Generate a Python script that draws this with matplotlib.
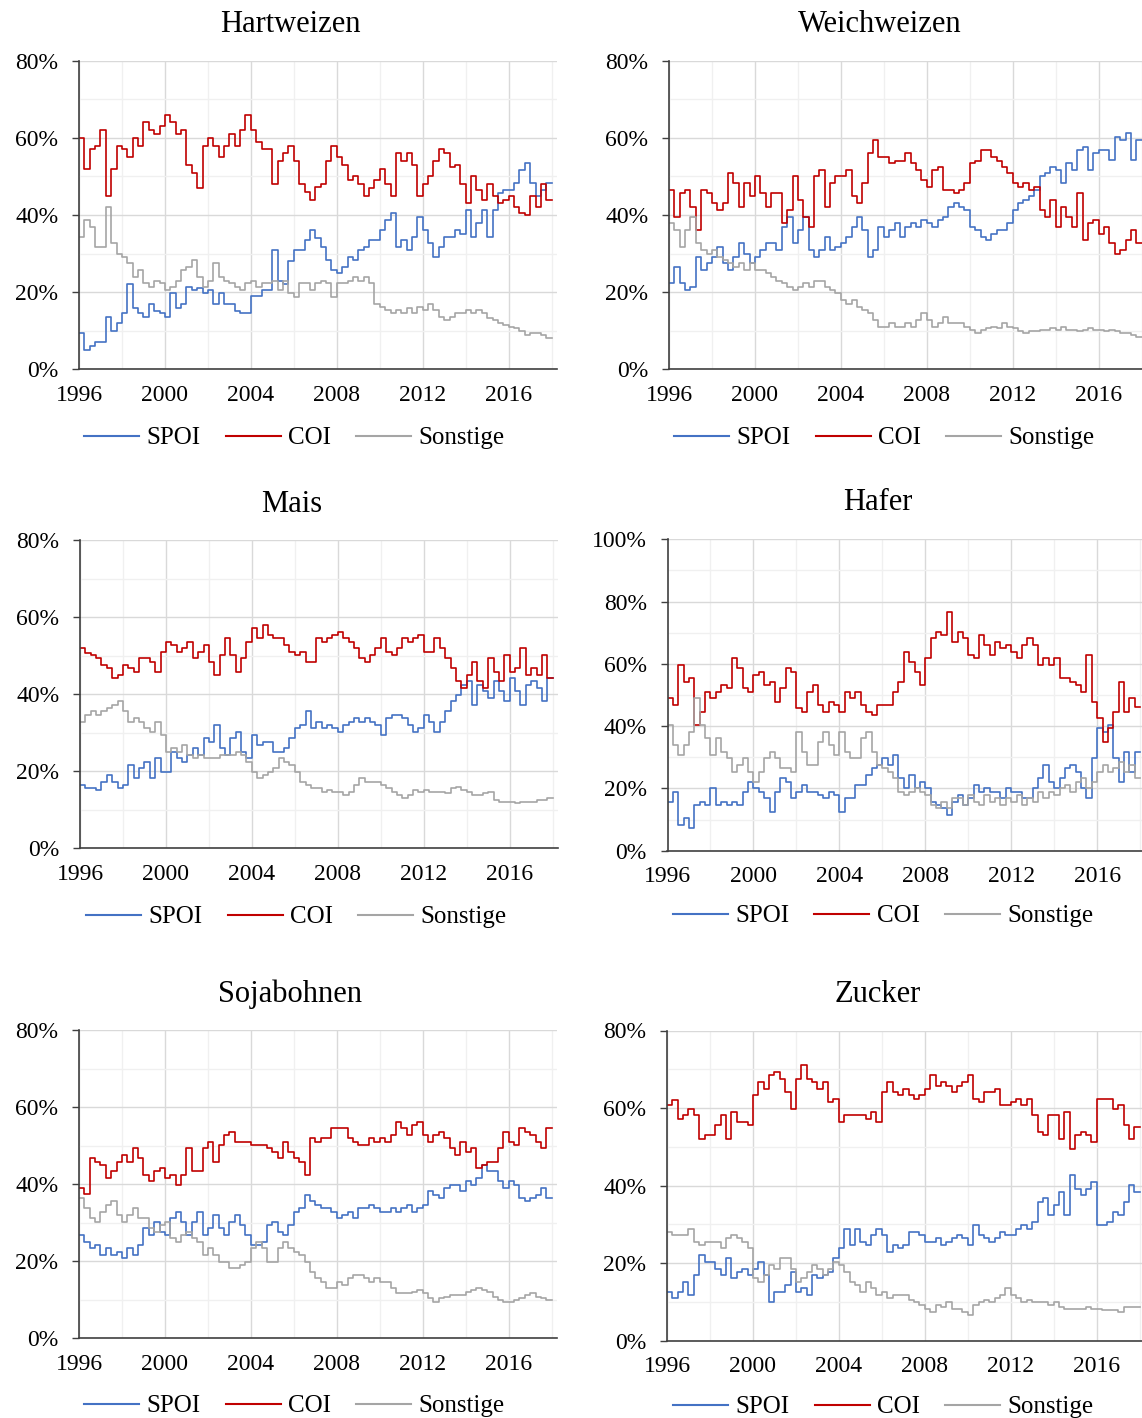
import numpy as np
import matplotlib
matplotlib.use("Agg")
import matplotlib.pyplot as plt
from matplotlib.lines import Line2D
from matplotlib.ticker import MultipleLocator, PercentFormatter

plt.rcParams["font.family"] = ["Liberation Serif", "DejaVu Serif"]

# quarterly readings, Q1 1996 .. Q4 2017 (shares in %)
quarters = 1996 + 0.25 * np.arange(88)

hart_spoi = [9.3, 5, 6, 7, 7, 13.6, 10, 12, 14.5, 22, 16, 14.5, 13.6, 17, 15, 14.5,
             13.6, 19.7, 16, 17, 21.4, 20.6, 21, 19.7, 20.6, 17, 19.7, 17, 17, 15, 14.5, 14.5,
             19, 19, 20.6, 20.6, 31, 23, 22, 28, 31, 31, 33.5, 36,
             34, 31.8, 28.3, 25.7, 25, 26.6, 29.2, 28.3, 31, 31.8, 33.5, 33.5,
             36, 38.7, 40.4, 31.8, 33.5, 31, 34.4, 39.6, 36, 32.7, 29.2, 31.8,
             34.4, 34.4, 36, 35, 41.3, 34.4, 37.8, 41.3, 34.4, 41.3, 45.6, 46.5,
             46.5, 48.2, 51.7, 53.4, 48.2, 44.8, 46.5, 48.2]
hart_coi = [60, 52, 57, 58, 62, 45, 52, 58, 57, 55, 60, 58, 64, 62, 61, 63,
            66, 64, 61, 62, 53, 51, 47, 58, 60, 58, 55, 58, 61, 58, 62, 66,
            62, 59, 57, 57, 48, 54, 56, 58, 54, 48, 46, 44,
            47.3, 48, 54, 58, 55, 53, 49, 50, 48, 45, 47, 49,
            52, 48, 45, 56, 54, 56, 53, 45, 48, 50, 54, 57,
            56, 52.5, 53, 48, 43, 50, 46.5, 44, 48, 45, 43, 44,
            45, 42, 40.5, 40, 45, 42, 48, 44]
hart_sonst = [34.4, 38.7, 37, 31.8, 31.8, 42, 32.7, 30, 29.2, 27.5, 24, 25.7, 22.3, 21.4, 23, 22.3,
              20.6, 21.4, 23, 25.7, 26.6, 28.3, 24, 21.4, 23, 27.5, 24, 23, 22.3, 21.4, 20.6, 22.3,
              23, 21.4, 22.3, 22.3, 23, 20.6, 23, 19.7, 18.8, 22.3, 22.3, 20.6,
              22.3, 23, 22.3, 18.8, 22.3, 22.3, 23, 24, 23, 24, 22.3, 17,
              16.2, 15.4, 14.5, 15.4, 14.5, 15.8, 14.5, 16.2, 15.4, 17, 15.4, 13.6,
              12.8, 13.6, 14.5, 14.5, 15.4, 14.5, 15.4, 14.5, 13.2, 12.8, 12, 11.5,
              11, 10.6, 9.8, 8.9, 9.3, 9.3, 8.9, 8]

weich_spoi = [22.3, 26.6, 22.3, 20.6, 21.4, 29.2, 25.7, 27.5, 29.2, 31.8, 27.5, 25.7, 29.2, 32.7, 30, 27.5,
              29.2, 31, 32.7, 32.7, 31, 37, 39.6, 32.7, 36, 39.6, 31, 29.2, 31, 34.4, 31, 31.8,
              32.7, 34.4, 37, 39.6, 36, 29.2, 31, 37,
              34.4, 36, 37.8, 34.4, 37, 37.8, 37, 38.7, 37.8, 37, 38.7, 39.6,
              42, 43, 42, 41.3, 37, 36, 34.4, 33.5, 35, 36, 36, 37.8,
              41.3, 43, 43.9, 44.8, 46.5, 50, 50.8, 52.5, 51.7, 48.2, 53.4, 51.7,
              56.8, 57.7, 51.7, 56, 56.8, 56.8, 54.3, 60.3, 59.4, 61.2, 54.3, 59.4]
weich_coi = [46.5, 39.6, 45.6, 46.5, 42, 36, 46.5, 45.6, 43, 41.3, 43, 50.8, 48.2, 42, 48.2, 44.8,
             50, 45.6, 42, 45.6, 45.6, 37.8, 41.3, 50, 43.9, 39.6, 37, 50, 51.7, 42, 48.2, 50,
             50, 51.7, 44.8, 43, 48.2, 56, 59.4, 55,
             55, 53.4, 54, 54, 56, 53.4, 51.7, 49, 47.3, 51.7, 52.5, 46.5,
             46.5, 45.6, 46.5, 48.2, 53.4, 54, 56.8, 56.8, 55, 54, 52.5, 50.8,
             48.2, 47.3, 48.2, 46.5, 47.3, 41.3, 39.6, 43.9, 37, 42, 39.6, 37,
             45.6, 33.5, 37.8, 38.7, 35, 37, 32.7, 30, 31, 33.5, 36, 32.7]
weich_sonst = [37.8, 36, 31.8, 36, 39.6, 32.7, 31, 30, 31, 29.2, 28.3, 27.5, 26.6, 27.5, 25.7, 27.5,
               25.7, 25.7, 24.9, 24, 23, 22.3, 21.4, 20.6, 21.4, 22.3, 21.4, 23, 23, 21.4, 20.6, 19.7,
               18, 17, 18, 16.2, 15.4, 14.5, 12.8, 11,
               11, 12, 11, 11, 12, 11, 12.8, 14.5, 12.8, 11, 12, 13.6,
               12, 12, 12, 11, 10.2, 9.3, 10.2, 10.6, 11, 10.6, 12, 11,
               10.6, 9.8, 9.3, 9.8, 9.8, 10.2, 10.2, 10.6, 10.2, 11, 10.2, 10.2,
               9.8, 10.2, 10.6, 10.2, 10.2, 9.8, 10.2, 9.8, 9.3, 9.3, 8.9, 8.5]

mais_spoi = [16.4, 15.6, 15.6, 15.1, 17.3, 19, 17.3, 15.6, 16.4, 21.6, 18.2, 20.8, 22.5, 18.2, 23.4, 19.9,
             19.9, 25.1, 23.4, 22.5, 24.2, 26, 24.2, 28.5, 27.7, 32, 26, 24.2, 28.5, 30.3, 25.1, 23.4,
             29.4, 26.8, 27.7, 27.7, 25.1, 25.1, 26, 28.5, 31.1, 32, 35.5, 31.1,
             32.9, 31.1, 32, 31.1, 30.3, 32, 32.9, 33.7, 32.9, 33.7, 32.9, 32,
             29.4, 33.7, 34.6, 34.6, 33.7, 32, 30.3, 31.1, 34.6, 32.9, 30.3, 32.9,
             35.5, 38.1, 39.8, 42.4, 43.3, 37.2, 42.4, 40.7, 38.9, 43.3, 40.7, 38.1,
             44.1, 40.7, 37.2, 42.4, 43.3, 41.5, 38.1, 44.1]
mais_coi = [51.9, 50.6, 50.2, 49.3, 47.6, 46.7, 44.1, 45, 47.6, 46.7, 45.8, 49.3, 49.3, 48.4, 45.8, 51,
            53.6, 52.8, 51, 51.9, 53.6, 49.3, 51, 52.8, 48.4, 45, 50.2, 54.5, 50.2, 45.8, 49.3, 53.6,
            57.1, 54.5, 58, 55.4, 54.5, 54.5, 52.8, 51, 50.2, 51, 48.4, 48.4,
            54.5, 53.6, 54.5, 55.4, 56.2, 54.5, 53.6, 51.9, 49.3, 48.4, 50.2, 51.9,
            54.5, 51, 50.2, 51.9, 54.5, 53.6, 54.5, 55.4, 51, 51, 54.5, 51.9,
            49.3, 46.7, 43.3, 41.5, 45, 48.4, 43.3, 41.5, 49.3, 45.8, 43.3, 50.2,
            45.8, 46.7, 51.9, 45, 46.7, 45, 50.2, 44.1]
mais_sonst = [32.9, 34.6, 35.5, 34.6, 35.5, 36.3, 37.2, 38.1, 35.5, 32.9, 33.7, 32.9, 31.1, 30.3, 32.9, 29.4,
              25.1, 26, 25.1, 26.8, 24.2, 23.4, 24.2, 23.4, 23.4, 23.4, 24.2, 24.2, 24.2, 25.1, 24.2, 22.5,
              19.9, 18.2, 19, 19.9, 20.8, 23.4, 22.5, 21.6, 19.9, 17.3, 16.4, 15.6,
              15.6, 14.7, 15.1, 14.7, 14.7, 13.8, 14.7, 16.4, 18.2, 17.3, 17.3, 17.3,
              16.4, 15.6, 14.7, 13.8, 13, 13.8, 15.1, 14.7, 15.1, 14.7, 14.7, 14.7,
              14.3, 15.6, 16, 15.1, 14.7, 13.8, 13.8, 14.3, 14.7, 12.5, 12.1, 12.1,
              12.1, 11.7, 12.1, 12.1, 12.1, 12.5, 12.5, 13]

hafer_spoi = [15.7, 19, 8.2, 10.4, 7.2, 14.7, 15.7, 14.7, 20, 14.7, 15.7, 14.7, 15.7, 14.7, 19, 22.2,
              20, 19, 16.8, 12.5, 19, 23.2, 22.2, 16.8, 19, 21.1, 19, 19, 17.9, 16.8, 19, 17.9,
              12.5, 16.8, 16.8, 21.1, 21.1, 24.3, 26.4, 27.5,
              29.7, 27.5, 30.7, 23.2, 20, 24.3, 20, 22.2, 20, 15.7, 14.7, 13.6,
              11.5, 15.7, 17.9, 14.7, 16.8, 21.1, 19, 20, 19, 19, 16.8, 20,
              19, 19, 16.8, 16.8, 20, 23.2, 27.5, 22.2, 20, 23.2, 26.4, 27.5,
              25.4, 20, 16.8, 29.7, 39.3, 38.2, 40.4, 29.7, 22.2, 31.8, 25.4, 31.8]
hafer_coi = [48.9, 46.8, 59.6, 54.3, 55.4, 40.4, 44.6, 51.1, 48.9, 51.1, 53.2, 52.1, 61.8, 58.6, 52.1, 51.1,
             56.4, 57.5, 53.2, 54.3, 47.9, 52.1, 58.6, 57.5, 45.7, 44.6, 51.1, 53.2, 46.8, 44.6, 47.9, 46.8,
             44.6, 51.1, 48.9, 51.1, 46.8, 44.6, 43.6, 46.8,
             46.8, 46.8, 51.1, 54.3, 63.9, 60.7, 57.5, 53.2, 61.8, 68.2, 70.3, 69.3,
             76.8, 67.1, 70.3, 68.2, 62.8, 61.8, 69.3, 66.1, 62.8, 67.1, 65, 66.1,
             63.9, 61.8, 66.1, 68.2, 66.1, 59.6, 61.8, 59.6, 61.8, 55.4, 55.4, 54.3,
             53.2, 51.1, 62.8, 47.9, 42.5, 35, 39.3, 44.6, 54.3, 44.6, 48.9, 46]
hafer_sonst = [40.4, 33.9, 30.7, 33.9, 38.2, 48.9, 40.4, 36.1, 30.7, 36.1, 31.8, 29.7, 25.4, 27.5, 29.7, 25.4,
               22.2, 25.4, 29.7, 31.8, 29.7, 26.4, 26.4, 25.4, 38.2, 31.8, 27.5, 27.5, 35, 38.2, 33.9, 30.7,
               38.2, 31.8, 29.7, 29.7, 36.1, 38.2, 31.8, 27.5,
               26.4, 25.4, 23.2, 19, 17.9, 19, 20, 19, 17.9, 14.7, 13.6, 15.7,
               13.6, 16.8, 16.8, 14.7, 17.9, 15.7, 14.7, 17.9, 15.7, 16.8, 14.7, 16.8,
               15.7, 17.9, 14.7, 16.8, 15.7, 19, 16.8, 19, 17.9, 20, 21.1, 19,
               22.2, 23.2, 20, 22.2, 25.4, 27.5, 25.4, 26.4, 28.6, 25.4, 27.5, 23.2]

soja_spoi = [26.8, 25.1, 23.4, 24.2, 21.6, 23.4, 21.6, 22.5, 20.8, 23.4, 21.6, 24.2, 28.5, 26.8, 30.3, 27.7,
             26.8, 31.1, 32.9, 30.3, 26.8, 30.3, 32.9, 26.8, 28.5, 32, 28.5, 26.8, 30.3, 32, 29.4, 26.8,
             24.2, 24.2, 25.1, 29.4, 30.3, 27.7, 26.8, 29.4, 32.9, 33.7, 37.2, 35.5,
             34.6, 33.7, 33.7, 32.9, 31.1, 32, 32.9, 31.1, 33.7, 33.7, 34.6, 33.7,
             32.9, 32.9, 33.7, 32.9, 33.7, 34.6, 32.9, 33.7, 34.6, 38.1, 37.2, 36.3,
             38.9, 39.8, 39.8, 38.1, 40.7, 39.8, 41.5, 45, 43.3, 43.3, 40.7, 38.9,
             40.7, 39.8, 36.3, 35.5, 36.3, 37.2, 38.9, 36.3]
soja_coi = [38.9, 37.5, 46.7, 45.8, 45, 41.5, 43.3, 45.8, 47.6, 45.8, 49.3, 46.7, 42.4, 40.7, 43.3, 44.1,
            41.5, 42.4, 39.8, 42.4, 49.3, 43.3, 43.3, 49.3, 51, 45.8, 50.2, 52.8, 53.6, 51, 51, 51,
            50.2, 50.2, 50.2, 49.3, 48.4, 46.7, 51, 48.4, 46.7, 45.8, 42.4, 51.9,
            51, 51.9, 51.9, 54.5, 54.5, 54.5, 51.9, 51, 50.2, 50.2, 51.9, 51,
            51.9, 51, 52.8, 56.2, 54.5, 52.8, 55.4, 56.2, 52.8, 51, 52.8, 53.6,
            51.9, 49.3, 47.6, 51, 48.4, 49.3, 44.1, 45, 45.8, 45.8, 49.3, 53.6,
            51, 50.2, 54.5, 53.6, 52.8, 51, 49.3, 54.5]
soja_sonst = [36.3, 33.7, 31.1, 30.3, 32.9, 34.6, 35.5, 32, 30.3, 32, 33.7, 31.1, 31.1, 28.5, 27.7, 29.4,
              30.3, 26, 25.1, 26.8, 27.7, 26, 25.1, 21.6, 23.4, 21.6, 19.9, 19.9, 18.2, 18.2, 19, 19.9,
              23.4, 25.1, 23.4, 19.9, 19.9, 23.4, 25.1, 23.4, 22.5, 21.6, 19.9, 17.3,
              15.6, 14.7, 13, 13, 14.7, 13.8, 15.6, 16.4, 16.4, 15.6, 14.7, 15.6,
              14.7, 14.7, 13, 11.7, 11.7, 11.7, 12.1, 12.5, 11.7, 10.4, 9.5, 10.4,
              10.8, 11.2, 11.2, 11.2, 12.1, 12.5, 13, 12.5, 12.1, 10.8, 9.9, 9.5,
              9.5, 9.9, 10.4, 11.2, 11.7, 10.8, 10.4, 9.9]

zucker_spoi = [12.6, 10.9, 12.6, 15.2, 11.8, 16.9, 22.1, 20.3, 20.3, 18.6, 16.9, 21.2, 16.1, 17.8, 18.6, 16.9,
               18.6, 20.3, 16.9, 10, 12.6, 12.6, 14.3, 17.8, 12.6, 13.5, 11.8, 16.9, 16.1, 16.9, 17.8, 21.2,
               23.8, 28.9, 24.6, 28.9, 25.5, 24.6, 27.2, 28.9,
               27.2, 22.9, 24.6, 23.8, 24.6, 28.1, 28.1, 27.2, 25.5, 25.5, 26.4, 24.6,
               25.5, 26.4, 27.2, 26.4, 24.6, 29.8, 27.2, 26.4, 25.5, 26.4, 28.1, 27.2,
               27.2, 28.9, 29.8, 28.9, 30.6, 35.8, 36.7, 32.4, 34.9, 38.4, 32.4, 42.7,
               39.2, 37.5, 39.2, 40.9, 29.8, 29.8, 30.6, 33.2, 32.4, 35.8, 40.1, 38.4]
zucker_coi = [60.7, 62, 57.3, 58.1, 59.8, 58.1, 52.1, 53, 53, 55.5, 58.1, 52.1, 59, 56.4, 56.4, 55.5,
              63.3, 66.7, 65, 68.4, 69.3, 67.6, 64.1, 59.8, 67.6, 71, 67.6, 66.7, 65, 66.7, 61.5, 62.4,
              56.4, 58.1, 58.1, 58.1, 58.1, 57.3, 59, 56.4,
              64.1, 66.7, 64.1, 63.3, 65, 63.3, 62.4, 63.3, 65, 68.4, 65.8, 66.7,
              65.8, 64.1, 65.8, 66.7, 68.4, 62.4, 61.5, 64.1, 64.1, 65, 60.7, 60.7,
              61.5, 62.4, 60.7, 62.4, 58.1, 53.8, 53, 58.1, 58.1, 52.1, 59, 49.5,
              53, 53.8, 53, 51.2, 62.4, 62.4, 62.4, 59.8, 60.7, 55.5, 52.1, 55]
zucker_sonst = [28.1, 27.2, 27.2, 27.2, 28.9, 25.5, 24.6, 25.5, 25.5, 25.5, 23.8, 26.4, 27.2, 26.4, 25.5, 23.8,
                16.1, 15.2, 16.9, 19.5, 18.6, 21.2, 21.2, 18.6, 15.2, 16.1, 17.8, 19.5, 18.6, 16.9, 18.6, 20.3,
                19.5, 17.8, 15.2, 14.3, 12.6, 15.2, 13.5, 11.8,
                12.6, 10.9, 11.8, 11.8, 11.8, 10.5, 10, 9.2, 8.3, 7.5, 9.2, 8.8,
                10, 8.3, 8.3, 7.5, 6.6, 9.2, 10, 10.5, 10, 10.9, 11.8, 13.5,
                11.8, 10.9, 10, 10.5, 10, 10, 10, 9.2, 10, 8.8, 8.3, 8.3,
                8.3, 8.3, 8.8, 8.3, 8.3, 7.9, 7.9, 7.9, 7.5, 8.8, 8.8, 8.8]

series_names = ["SPOI", "COI", "Sonstige"]
series_colors = ["#4472C4", "#C00000", "#A5A5A5"]

panels = [
    ("Hartweizen", [hart_spoi, hart_coi, hart_sonst], 80),
    ("Weichweizen", [weich_spoi, weich_coi, weich_sonst], 80),
    ("Mais", [mais_spoi, mais_coi, mais_sonst], 80),
    ("Hafer", [hafer_spoi, hafer_coi, hafer_sonst], 100),
    ("Sojabohnen", [soja_spoi, soja_coi, soja_sonst], 80),
    ("Zucker", [zucker_spoi, zucker_coi, zucker_sonst], 80),
]

W, H = 1142, 1418
# plot boxes in pixels: left, top, right, bottom
boxes = [(79, 60.7, 557, 369.3), (669, 60.7, 1147, 369.3),
         (80, 540, 558, 848.3), (667.5, 539.3, 1145.5, 850.7),
         (79, 1030, 557, 1338.3), (667, 1030.5, 1145, 1340.7)]
title_xy = [(290, 25), (880, 25), (292, 504), (878, 503), (290, 994), (878, 994)]
legend_xy = [(294.5, 438), (884.5, 438), (296.5, 917), (883, 916), (294.5, 1406), (883.5, 1407)]

fig = plt.figure(figsize=(W / 100, H / 100), dpi=100)

for (title, data, ymax), (l, t, r, b), (tx, ty), (lx, ly) in zip(panels, boxes, title_xy, legend_xy):
    ax = fig.add_axes([l / W, 1 - b / H, (r - l) / W, (b - t) / H])
    for vals, name, col in zip(data, series_names, series_colors):
        x = np.append(quarters, quarters[-1] + 0.25)
        y = np.append(vals, vals[-1])
        ax.plot(x, y, drawstyle="steps-post", color=col, lw=1.2, label=name)

    ax.set_xlim(1996, 2018.25)
    ax.set_ylim(0, ymax)
    ax.xaxis.set_major_locator(MultipleLocator(4))
    ax.xaxis.set_minor_locator(MultipleLocator(2))
    ax.yaxis.set_major_locator(MultipleLocator(20))
    ax.yaxis.set_minor_locator(MultipleLocator(10))
    ax.yaxis.set_major_formatter(PercentFormatter(100, decimals=0))

    ax.set_axisbelow(True)
    ax.grid(which="major", color="#D9D9D9", lw=1.0)
    ax.grid(which="minor", color="#F0F0F0", lw=1.0)

    ax.tick_params(axis="x", which="both", length=0, labelsize=17, pad=11)
    ax.tick_params(axis="y", which="major", length=5, width=1, color="#404040",
                   labelsize=17, pad=10)
    ax.tick_params(axis="y", which="minor", length=0)
    for side in ("top", "right"):
        ax.spines[side].set_visible(False)
    for side in ("left", "bottom"):
        ax.spines[side].set_color("#404040")
        ax.spines[side].set_linewidth(1.2)

    fig.text(tx / W, 1 - ty / H, title, ha="center", va="center", fontsize=22)

    handles = [Line2D([], [], color=c, lw=1.5) for c in series_colors]
    fig.legend(handles, series_names, loc="center", bbox_to_anchor=(lx / W, 1 - ly / H),
               ncol=3, frameon=False, fontsize=18, handlelength=2.2,
               handletextpad=0.3, columnspacing=1.0)

fig.savefig("out.png", dpi=100)
